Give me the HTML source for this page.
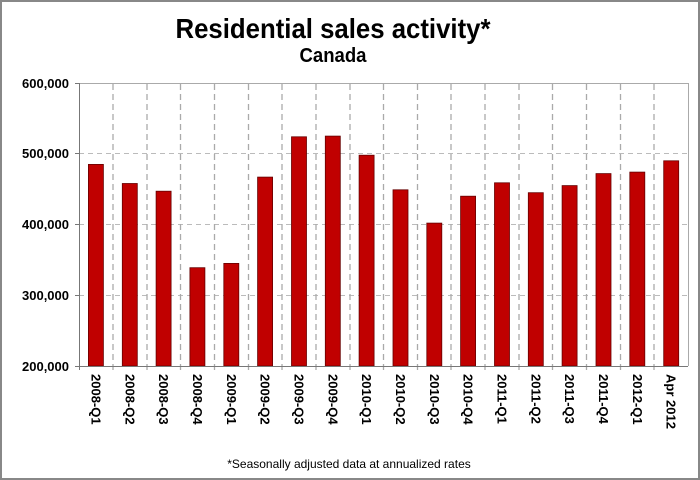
<!DOCTYPE html>
<html><head><style>
html,body{margin:0;padding:0;background:#fff;}
svg{display:block;font-family:"Liberation Sans",Arial,sans-serif;}
</style></head><body>
<svg width="700" height="480" xmlns="http://www.w3.org/2000/svg">
<rect x="1" y="1" width="698" height="478" fill="#fff" stroke="#888" stroke-width="2"/>
<text x="333" y="38" text-anchor="middle" font-size="28" font-weight="bold" textLength="315" lengthAdjust="spacingAndGlyphs">Residential sales activity*</text>
<text x="333" y="62" text-anchor="middle" font-size="20" font-weight="bold" textLength="67" lengthAdjust="spacingAndGlyphs">Canada</text>
<g stroke="#bbb" stroke-dasharray="5,4" stroke-width="1">
<line x1="79" y1="153.5" x2="688" y2="153.5"/>
<line x1="79" y1="224.5" x2="688" y2="224.5"/>
<line x1="79" y1="295.5" x2="688" y2="295.5"/>
</g>
<g stroke="#aaa" stroke-dasharray="6,4" stroke-width="1.3">
<line x1="113" y1="84" x2="113" y2="370"/><line x1="147" y1="84" x2="147" y2="370"/><line x1="180.5" y1="84" x2="180.5" y2="370"/><line x1="214.5" y1="84" x2="214.5" y2="370"/><line x1="248.5" y1="84" x2="248.5" y2="370"/><line x1="282" y1="84" x2="282" y2="370"/><line x1="316" y1="84" x2="316" y2="370"/><line x1="350" y1="84" x2="350" y2="370"/><line x1="383.5" y1="84" x2="383.5" y2="370"/><line x1="417.5" y1="84" x2="417.5" y2="370"/><line x1="451" y1="84" x2="451" y2="370"/><line x1="485" y1="84" x2="485" y2="370"/><line x1="519" y1="84" x2="519" y2="370"/><line x1="552.5" y1="84" x2="552.5" y2="370"/><line x1="586.5" y1="84" x2="586.5" y2="370"/><line x1="620.5" y1="84" x2="620.5" y2="370"/><line x1="654" y1="84" x2="654" y2="370"/>
</g>
<g fill="#c00000" stroke="#600" stroke-width="0.8">
<rect x="88.4" y="164.4" width="15" height="201.6"/>
<rect x="122.3" y="183.5" width="15" height="182.5"/>
<rect x="156.1" y="191.2" width="15" height="174.8"/>
<rect x="189.9" y="267.7" width="15" height="98.3"/>
<rect x="223.8" y="263.4" width="15" height="102.6"/>
<rect x="257.6" y="177.1" width="15" height="188.9"/>
<rect x="291.5" y="136.8" width="15" height="229.2"/>
<rect x="325.3" y="136.1" width="15" height="229.9"/>
<rect x="359.1" y="155.2" width="15" height="210.8"/>
<rect x="393.0" y="189.8" width="15" height="176.2"/>
<rect x="426.8" y="223.1" width="15" height="142.9"/>
<rect x="460.6" y="196.2" width="15" height="169.8"/>
<rect x="494.5" y="182.8" width="15" height="183.2"/>
<rect x="528.3" y="192.7" width="15" height="173.3"/>
<rect x="562.1" y="185.6" width="15" height="180.4"/>
<rect x="596.0" y="173.6" width="15" height="192.4"/>
<rect x="629.8" y="172.1" width="15" height="193.9"/>
<rect x="663.7" y="160.8" width="15" height="205.2"/>
</g>
<line x1="79" y1="83.5" x2="688" y2="83.5" stroke="#aaa"/>
<line x1="688.5" y1="83" x2="688.5" y2="366" stroke="#aaa"/>
<line x1="79.5" y1="83" x2="79.5" y2="370" stroke="#777"/>
<line x1="75" y1="366.5" x2="688" y2="366.5" stroke="#777"/>
<g stroke="#777"><line x1="75" y1="83.5" x2="79" y2="83.5"/><line x1="75" y1="153.5" x2="79" y2="153.5"/><line x1="75" y1="224.5" x2="79" y2="224.5"/><line x1="75" y1="295.5" x2="79" y2="295.5"/></g>
<g font-size="13" font-weight="bold" text-anchor="end">
<text x="69" y="88">600,000</text><text x="69" y="158">500,000</text><text x="69" y="229">400,000</text><text x="69" y="300">300,000</text><text x="69" y="371">200,000</text>
</g>
<g font-size="13" font-weight="bold">
<text transform="translate(91.4,374) rotate(90)">2008-Q1</text>
<text transform="translate(125.3,374) rotate(90)">2008-Q2</text>
<text transform="translate(159.1,374) rotate(90)">2008-Q3</text>
<text transform="translate(192.9,374) rotate(90)">2008-Q4</text>
<text transform="translate(226.8,374) rotate(90)">2009-Q1</text>
<text transform="translate(260.6,374) rotate(90)">2009-Q2</text>
<text transform="translate(294.5,374) rotate(90)">2009-Q3</text>
<text transform="translate(328.3,374) rotate(90)">2009-Q4</text>
<text transform="translate(362.1,374) rotate(90)">2010-Q1</text>
<text transform="translate(396.0,374) rotate(90)">2010-Q2</text>
<text transform="translate(429.8,374) rotate(90)">2010-Q3</text>
<text transform="translate(463.6,374) rotate(90)">2010-Q4</text>
<text transform="translate(497.5,374) rotate(90)">2011-Q1</text>
<text transform="translate(531.3,374) rotate(90)">2011-Q2</text>
<text transform="translate(565.1,374) rotate(90)">2011-Q3</text>
<text transform="translate(599.0,374) rotate(90)">2011-Q4</text>
<text transform="translate(632.8,374) rotate(90)">2012-Q1</text>
<text transform="translate(666.7,374) rotate(90)">Apr 2012</text>
</g>
<text x="349" y="468" text-anchor="middle" font-size="12">*Seasonally adjusted data at annualized rates</text>
</svg>
</body></html>
